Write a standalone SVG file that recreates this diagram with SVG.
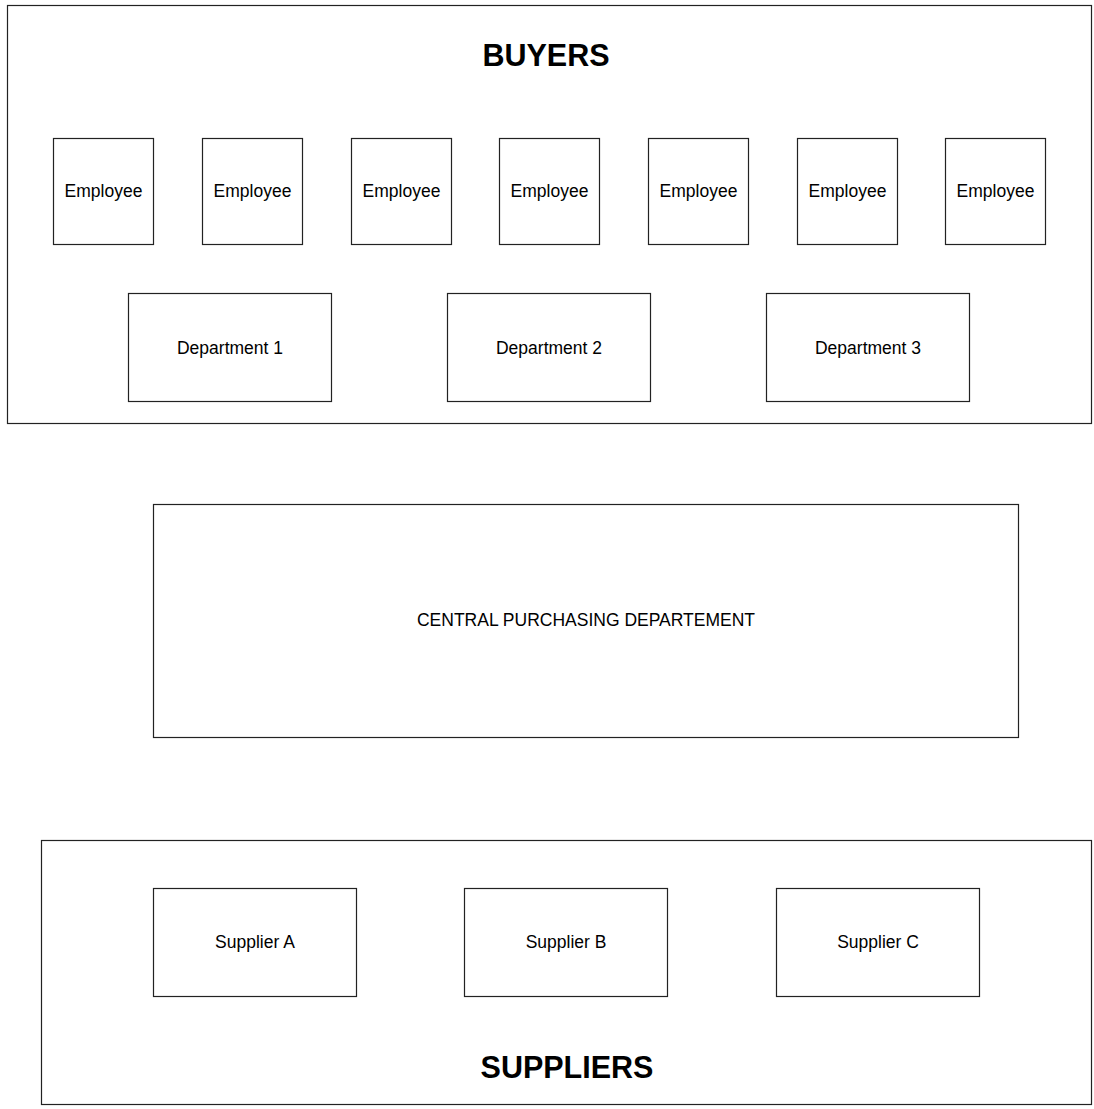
<svg xmlns="http://www.w3.org/2000/svg" width="1094" height="1109" viewBox="0 0 1094 1109">
<style>
rect{fill:#fff;stroke:#222;stroke-width:1.2}
text{font-family:"Liberation Sans",Arial,sans-serif;fill:#000;text-anchor:middle}
.l{font-size:17.5px}
.t{font-size:30.5px;font-weight:bold}
</style>
<rect x="0" y="0" width="1094" height="1109" style="stroke:none"/>
<g id="buyers">
<rect x="7.5" y="5.5" width="1084" height="418"/>
<text class="t" x="546" y="66">BUYERS</text>
</g>
<g id="employee1"><rect x="53.5" y="138.5" width="100" height="106"/><text class="l" x="103.5" y="197">Employee</text></g>
<g id="employee2"><rect x="202.5" y="138.5" width="100" height="106"/><text class="l" x="252.5" y="197">Employee</text></g>
<g id="employee3"><rect x="351.5" y="138.5" width="100" height="106"/><text class="l" x="401.5" y="197">Employee</text></g>
<g id="employee4"><rect x="499.5" y="138.5" width="100" height="106"/><text class="l" x="549.5" y="197">Employee</text></g>
<g id="employee5"><rect x="648.5" y="138.5" width="100" height="106"/><text class="l" x="698.5" y="197">Employee</text></g>
<g id="employee6"><rect x="797.5" y="138.5" width="100" height="106"/><text class="l" x="847.5" y="197">Employee</text></g>
<g id="employee7"><rect x="945.5" y="138.5" width="100" height="106"/><text class="l" x="995.5" y="197">Employee</text></g>
<g id="department1"><rect x="128.5" y="293.5" width="203" height="108"/><text class="l" x="230" y="354">Department 1</text></g>
<g id="department2"><rect x="447.5" y="293.5" width="203" height="108"/><text class="l" x="549" y="354">Department 2</text></g>
<g id="department3"><rect x="766.5" y="293.5" width="203" height="108"/><text class="l" x="868" y="354">Department 3</text></g>
<g id="central"><rect x="153.5" y="504.5" width="865" height="233"/><text class="l" x="586" y="626">CENTRAL PURCHASING DEPARTEMENT</text></g>
<g id="suppliers">
<rect x="41.5" y="840.5" width="1050" height="264"/>
<text class="t" x="567" y="1078">SUPPLIERS</text>
</g>
<g id="supplierA"><rect x="153.5" y="888.5" width="203" height="108"/><text class="l" x="255" y="948">Supplier A</text></g>
<g id="supplierB"><rect x="464.5" y="888.5" width="203" height="108"/><text class="l" x="566" y="948">Supplier B</text></g>
<g id="supplierC"><rect x="776.5" y="888.5" width="203" height="108"/><text class="l" x="878" y="948">Supplier C</text></g>
<g id="connectors"></g>
</svg>
